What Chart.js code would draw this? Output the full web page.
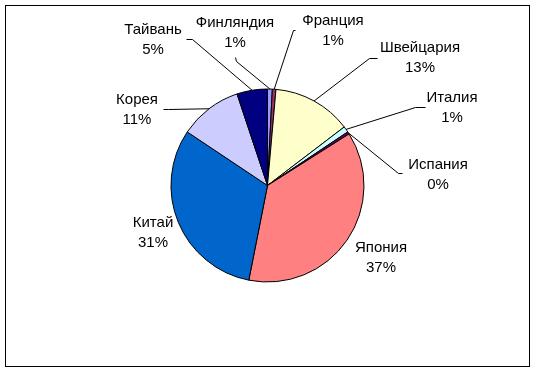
<!DOCTYPE html>
<html>
<head>
<meta charset="utf-8">
<script src="https://cdn.jsdelivr.net/npm/chart.js@4"></script>
<style>
html,body{margin:0;padding:0;background:#fff;}
#wrap{width:536px;height:372px;position:relative;}
</style>
</head>
<body>
<div id="wrap"><canvas id="c" width="536" height="372"></canvas></div>
<script>
// Data (clockwise from 12 o'clock)
const categories = ["Финляндия", "Франция", "Швейцария", "Италия", "Испания", "Япония", "Китай", "Корея", "Тайвань"];
const shares = [0.8, 0.6, 13.2, 1.0, 0.4, 37.0, 31.2, 10.5, 5.1];
const sliceColors = ["#9999FF", "#993366", "#FFFFCC", "#CCFFFF", "#660066", "#FF8080", "#0066CC", "#CCCCFF", "#000080"];

// Label layout: text centre (first line), optional leader start and elbow
const labelLayout = [
  {x: 235, y: 23, start: [235, 57], elbow: [236, 61]},
  {x: 333, y: 21, start: [295, 30], elbow: [293, 30]},
  {x: 420, y: 48, start: [377, 58], elbow: [369, 58]},
  {x: 452, y: 98, start: [425, 107], elbow: [415, 107]},
  {x: 438, y: 165, start: [402, 173], elbow: [398, 173]},
  {x: 381, y: 248, start: null},
  {x: 153, y: 223, start: null},
  {x: 137, y: 100, start: [163, 109], elbow: [168, 109]},
  {x: 153, y: 30, start: [186, 39], elbow: [192, 39]}
];

const total = shares.reduce((a, b) => a + b, 0);

const labelPlugin = {
  id: 'labels',
  afterDraw(chart) {
    const ctx = chart.ctx;
    const meta = chart.getDatasetMeta(0);
    ctx.save();
    ctx.strokeStyle = '#000';
    ctx.lineWidth = 1;
    meta.data.forEach((arc, i) => {
      const L = labelLayout[i];
      if (!L.start) return;
      const p = arc.getProps(['x', 'y', 'startAngle', 'endAngle', 'outerRadius'], true);
      const mid = (p.startAngle + p.endAngle) / 2;
      const ax = p.x + Math.cos(mid) * p.outerRadius;
      const ay = p.y + Math.sin(mid) * p.outerRadius;
      ctx.beginPath();
      ctx.moveTo(L.start[0] + 0.5, L.start[1] + 0.5);
      ctx.lineTo(L.elbow[0] + 0.5, L.elbow[1] + 0.5);
      ctx.lineTo(ax, ay);
      ctx.stroke();
    });
    ctx.fillStyle = '#000';
    ctx.font = '15px "Liberation Sans", Arial, sans-serif';
    ctx.textAlign = 'center';
    ctx.textBaseline = 'middle';
    categories.forEach((name, i) => {
      const L = labelLayout[i];
      const pct = Math.round(shares[i] / total * 100) + '%';
      ctx.fillText(name, L.x, L.y);
      ctx.fillText(pct, L.x, L.y + 19.5);
    });
    ctx.strokeStyle = '#000';
    ctx.lineWidth = 1;
    ctx.strokeRect(5.5, 5.5, 524, 361);
    ctx.restore();
  }
};

new Chart(document.getElementById('c'), {
  type: 'pie',
  data: {
    labels: categories,
    datasets: [{
      data: shares,
      backgroundColor: sliceColors,
      borderColor: '#000',
      borderWidth: 1,
      hoverOffset: 0
    }]
  },
  options: {
    responsive: false,
    animation: false,
    radius: 96.5,
    layout: {padding: {left: 100, right: 101, top: 60, bottom: 61}},
    events: [],
    plugins: {legend: {display: false}, tooltip: {enabled: false}}
  },
  plugins: [labelPlugin]
});
</script>
</body>
</html>
